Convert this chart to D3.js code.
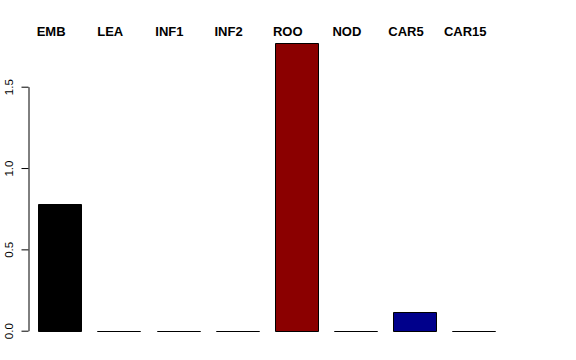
<!DOCTYPE html>
<html>
<head>
<meta charset="utf-8">
<script src="https://cdn.jsdelivr.net/npm/d3@7"></script>
<style>
  body { margin: 0; background: #fff; }
  svg { display: block; font-family: "Liberation Sans", Arial, sans-serif; }
</style>
</head>
<body>
<script>
// chart data
const categories = ['EMB', 'LEA', 'INF1', 'INF2', 'ROO', 'NOD', 'CAR5', 'CAR15']
const values = [0.779, 0, 0, 0, 1.77, 0, 0.113, 0]
const colors = ['#000000', '#8b3a62', '#006400', '#483d8b', '#8b0000', '#68228b', '#00008b', '#555555']
const yTicks = [0, 0.5, 1, 1.5]

const width = 576
const height = 360

const svg = d3.select('body').append('svg')
  .attr('width', width)
  .attr('height', height)

const x = d3.scaleBand()
  .domain(categories)
  .range([38.3, 495])
  .paddingInner(0.28)
  .paddingOuter(0)

const y = d3.scaleLinear()
  .domain([0, 1.5])
  .range([330.7, 86.7])

// bars as closed paths, so zero values still show as a flat line
svg.append('g').selectAll('path')
  .data(categories)
  .join('path')
  .attr('d', (c, i) => {
    const x0 = Math.round(x(c)) + 0.5
    const w = Math.round(x.bandwidth())
    const y0 = Math.round(y(0)) + 0.5
    const y1 = Math.round(y(values[i])) + 0.5
    return `M${x0},${y0}H${x0 + w}V${y1}H${x0}Z`
  })
  .attr('fill', (c, i) => colors[i])
  .attr('stroke', '#000')
  .attr('stroke-width', 1)

// y axis, R style
const yAxis = d3.axisLeft(y)
  .tickValues(yTicks)
  .tickFormat(d3.format('.1f'))
  .tickSizeInner(7)
  .tickSizeOuter(0)
  .tickPadding(5)

const yG = svg.append('g')
  .attr('transform', 'translate(28.5,0)')
  .call(yAxis)

yG.select('.domain').attr('stroke', '#000')
yG.selectAll('.tick line').attr('stroke', '#000')
yG.selectAll('.tick text')
  .attr('font-size', 11.5)
  .attr('fill', '#000')
  .attr('text-anchor', 'middle')
  .attr('dy', null)
  .attr('x', null)
  .attr('transform', 'translate(-20,0) rotate(-90)')
  .attr('dominant-baseline', 'central')
  .style('font-family', '"Liberation Sans", Arial, sans-serif')

// top category labels, a little left of each bar centre
svg.append('g').selectAll('text')
  .data(categories)
  .join('text')
  .attr('x', (c) => x(c) + x.bandwidth() / 2 - 8.5)
  .attr('y', 35.5)
  .attr('text-anchor', 'middle')
  .attr('font-size', 13)
  .attr('font-weight', 'bold')
  .attr('fill', '#000')
  .text((c) => c)
</script>
</body>
</html>
